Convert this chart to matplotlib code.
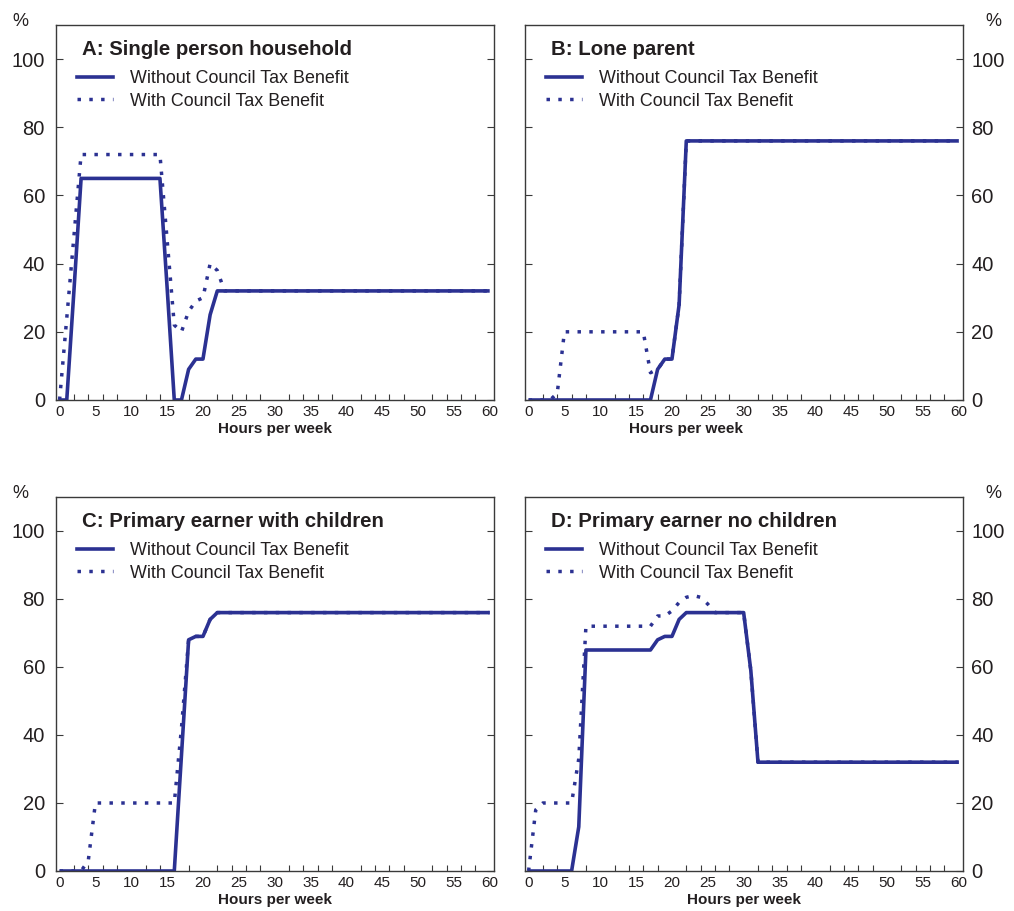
import numpy as np
import matplotlib
matplotlib.use("Agg")
from matplotlib import pyplot as plt
from matplotlib.lines import Line2D

plt.rcParams['font.family'] = ['Liberation Sans', 'DejaVu Sans']

# ---- data: participation tax rate (%) by hours worked per week ----
a_hours_without = [0, 1, 2, 3, 14, 15, 16, 17, 18, 19, 20, 21, 22, 60]
a_rate_without = [0, 0, 32, 65, 65, 33, 0, 0, 9, 12, 12, 25, 32, 32]
a_hours_with = [0, 1, 2, 3, 14, 15, 16, 17, 18, 19, 20, 21, 22, 23, 60]
a_rate_with = [0, 24, 48, 72, 72, 47, 22, 20, 26, 29, 30, 40, 38, 32, 32]

b_hours_without = [0, 17, 18, 19, 20, 21, 22, 60]
b_rate_without = [0, 0, 9, 12, 12, 28, 76, 76]
b_hours_with = [0, 3, 4, 5, 16, 17, 18, 19, 20, 21, 22, 60]
b_rate_with = [0, 0, 2, 20, 20, 8, 9, 12, 12, 28, 76, 76]

c_hours_without = [0, 16, 17, 18, 19, 20, 21, 22, 60]
c_rate_without = [0, 0, 34, 68, 69, 69, 74, 76, 76]
c_hours_with = [0, 3, 4, 5, 16, 17, 18, 19, 20, 21, 22, 60]
c_rate_with = [0, 0, 3, 20, 20, 42, 68, 69, 69, 74, 76, 76]

d_hours_without = [0, 6, 7, 8, 17, 18, 19, 20, 21, 22, 30, 31, 32, 60]
d_rate_without = [0, 0, 13, 65, 65, 68, 69, 69, 74, 76, 76, 59, 32, 32]
d_hours_with = [0, 1, 2, 6, 7, 8, 17, 18, 19, 20, 21, 22, 23, 24, 25, 26, 30, 31, 32, 60]
d_rate_with = [0, 18, 20, 20, 33, 72, 72, 75, 75, 76.5, 79, 80.5, 81, 80.5, 78.5, 76, 76, 59, 32, 32]

panel_titles = ["A: Single person household", "B: Lone parent",
                "C: Primary earner with children", "D: Primary earner no children"]
series_labels = ["Without Council Tax Benefit", "With Council Tax Benefit"]
x_ticks = list(range(0, 61, 5))
y_ticks = [0, 20, 40, 60, 80, 100]

line_col = '#2B3192'
text_col = '#231F20'
spine_col = '#3A3A3A'
dotted = (0, (1, 2.4))

W, H = 1014, 911
fig = plt.figure(figsize=(W / 100, H / 100), dpi=100)

# axes boxes in pixels: left, top, right, bottom
boxes = [(56, 25, 494, 400), (525, 25, 963, 400),
         (56, 497, 494, 871), (525, 497, 963, 871)]

panels = [
    (a_hours_without, a_rate_without, a_hours_with, a_rate_with),
    (b_hours_without, b_rate_without, b_hours_with, b_rate_with),
    (c_hours_without, c_rate_without, c_hours_with, c_rate_with),
    (d_hours_without, d_rate_without, d_hours_with, d_rate_with),
]

for i, (box, data, title) in enumerate(zip(boxes, panels, panel_titles)):
    l, t, r, b = box
    ax = fig.add_axes([l / W, 1 - b / H, (r - l) / W, (b - t) / H])
    hx, hy, wx, wy = data
    ax.plot(wx, wy, color=line_col, lw=2.5, linestyle=dotted,
            dash_capstyle='butt')
    ax.plot(hx, hy, color=line_col, lw=2.6, solid_capstyle='butt')

    ax.set_xlim(-0.5, 60.6)
    ax.set_ylim(0, 110)
    ax.set_xticks(x_ticks)
    ax.set_xticks(range(0, 61, 2), minor=True)
    ax.set_yticks(y_ticks)
    ax.tick_params(axis='x', which='major', length=0, labelsize=11,
                   pad=3.5, colors=text_col)
    ax.tick_params(axis='x', which='minor', length=4, direction='in',
                   width=0.8, color=spine_col)
    right_side = (i % 2 == 1)
    ax.tick_params(axis='y', which='major', direction='in', length=5, width=0.8,
                   left=True, right=True, labelleft=not right_side,
                   labelright=right_side, labelsize=14.5,
                   pad=6 if right_side else 8,
                   labelcolor=text_col, color=spine_col)
    for s in ax.spines.values():
        s.set_color(spine_col)
        s.set_linewidth(1.0)

    ax.set_xlabel("Hours per week", fontsize=11, fontweight='bold',
                  color=text_col, labelpad=2.5)
    if i == 1:
        ax.xaxis.set_label_coords(0.368, -0.06)

    # "%" unit label above the value axis
    px = 993 if right_side else 20
    fig.text(px / W, 1 - (t - 4) / H, "%", fontsize=13, color=text_col,
             ha='center', va='center')

    ax.text(0.059, 0.935, title, transform=ax.transAxes, fontsize=14.7,
            fontweight='bold', color=text_col, va='center', ha='left')
    handles = [Line2D([], [], color=line_col, lw=2.6),
               Line2D([], [], color=line_col, lw=2.5, linestyle=dotted)]
    ax.legend(handles, series_labels, loc='upper left',
              bbox_to_anchor=(0.048, 0.88), frameon=False, fontsize=12.9,
              borderpad=0, borderaxespad=0,
              handlelength=2.0, handletextpad=0.95, labelspacing=0.32,
              labelcolor=text_col)

fig.savefig("out.png", dpi=100)
